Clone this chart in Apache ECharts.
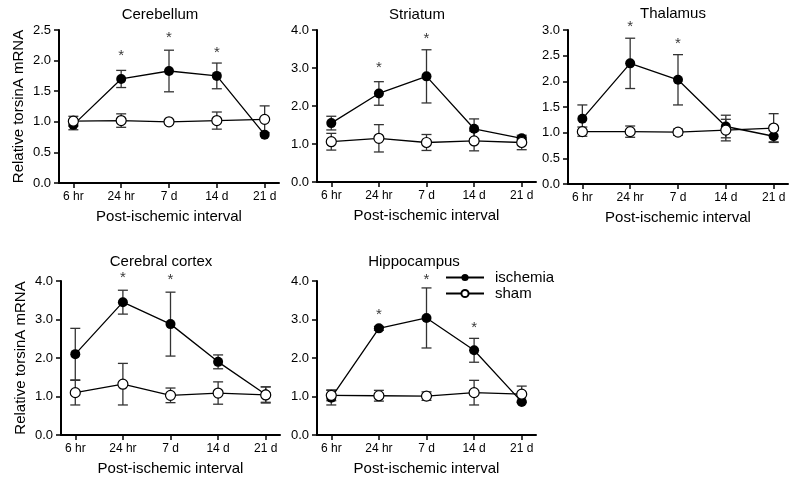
<!DOCTYPE html>
<html>
<head>
<meta charset="utf-8">
<script src="https://cdn.jsdelivr.net/npm/echarts@6/dist/echarts.min.js"></script>
<style>
  html, body { margin: 0; padding: 0; background: #fff; }
  #main { width: 800px; height: 487px; }
</style>
</head>
<body>
<div id="main"></div>
<script>
// time points after ischemia
var categories = ['6 hr', '24 hr', '7 d', '14 d', '21 d'];

// Cerebellum
var cerebellumIschemia = [0.95, 1.70, 1.83, 1.75, 0.79];
var cerebellumIschemiaSem = [0.08, 0.14, 0.34, 0.21, 0.0];
var cerebellumSham = [1.01, 1.02, 1.00, 1.02, 1.04];
var cerebellumShamSem = [0.08, 0.11, 0.03, 0.14, 0.22];
var cerebellumStars = [null, 2.12, 2.42, 2.17, null];

// Striatum
var striatumIschemia = [1.55, 2.33, 2.78, 1.40, 1.15];
var striatumIschemiaSem = [0.18, 0.31, 0.70, 0.26, 0.03];
var striatumSham = [1.06, 1.15, 1.04, 1.08, 1.04];
var striatumShamSem = [0.22, 0.36, 0.21, 0.26, 0.19];
var striatumStars = [null, 3.08, 3.84, null, null];

// Thalamus
var thalamusIschemia = [1.27, 2.35, 2.03, 1.12, 0.93];
var thalamusIschemiaSem = [0.27, 0.49, 0.49, 0.22, 0.11];
var thalamusSham = [1.02, 1.02, 1.01, 1.05, 1.09];
var thalamusShamSem = [0.09, 0.11, 0.06, 0.21, 0.28];
var thalamusStars = [null, 3.12, 2.79, null, null];

// Cerebral cortex
var cortexIschemia = [2.10, 3.45, 2.88, 1.90, 1.05];
var cortexIschemiaSem = [0.67, 0.31, 0.83, 0.18, 0.20];
var cortexSham = [1.10, 1.32, 1.03, 1.09, 1.04];
var cortexShamSem = [0.32, 0.54, 0.19, 0.29, 0.21];
var cortexStars = [null, 4.17, 4.11, null, null];

// Hippocampus
var hippocampusIschemia = [0.97, 2.77, 3.04, 2.20, 0.86];
var hippocampusIschemiaSem = [0.19, 0.05, 0.78, 0.31, 0.02];
var hippocampusSham = [1.03, 1.02, 1.01, 1.10, 1.06];
var hippocampusShamSem = [0.14, 0.14, 0.11, 0.32, 0.21];
var hippocampusStars = [null, 3.20, 4.11, 2.87, null];

var FONT = '"Liberation Sans", Arial, sans-serif';

// box = [left, top, width, height], tpos = title centre
var panels = [
  { title: 'Cerebellum', box: [59, 30, 220, 153], tpos: [160, 15], yMax: 2.5, yStep: 0.5, yName: true,
    isc: cerebellumIschemia, iscSem: cerebellumIschemiaSem, sham: cerebellumSham, shamSem: cerebellumShamSem, stars: cerebellumStars },
  { title: 'Striatum', box: [317, 30, 219, 152], tpos: [417, 15], yMax: 4, yStep: 1, yName: false,
    isc: striatumIschemia, iscSem: striatumIschemiaSem, sham: striatumSham, shamSem: striatumShamSem, stars: striatumStars },
  { title: 'Thalamus', box: [568, 30, 220, 154], tpos: [673, 14], yMax: 3, yStep: 0.5, yName: false,
    isc: thalamusIschemia, iscSem: thalamusIschemiaSem, sham: thalamusSham, shamSem: thalamusShamSem, stars: thalamusStars },
  { title: 'Cerebral cortex', box: [61, 281, 219, 154], tpos: [161, 262], yMax: 4, yStep: 1, yName: true,
    isc: cortexIschemia, iscSem: cortexIschemiaSem, sham: cortexSham, shamSem: cortexShamSem, stars: cortexStars },
  { title: 'Hippocampus', box: [317, 281, 219, 154], tpos: [414, 262], yMax: 4, yStep: 1, yName: false,
    isc: hippocampusIschemia, iscSem: hippocampusIschemiaSem, sham: hippocampusSham, shamSem: hippocampusShamSem, stars: hippocampusStars }
];

// error bars: stem + caps
function renderErr(params, api) {
  var x = api.value(0);
  var lo = api.coord([x, api.value(1)]);
  var hi = api.coord([x, api.value(2)]);
  var w = 5;
  var st = { stroke: '#333', lineWidth: 1.3 };
  return {
    type: 'group',
    children: [
      { type: 'line', shape: { x1: lo[0], y1: lo[1], x2: hi[0], y2: hi[1] }, style: st },
      { type: 'line', shape: { x1: lo[0] - w, y1: lo[1], x2: lo[0] + w, y2: lo[1] }, style: st },
      { type: 'line', shape: { x1: hi[0] - w, y1: hi[1], x2: hi[0] + w, y2: hi[1] }, style: st }
    ]
  };
}

function errData(mean, sem) {
  var out = [];
  mean.forEach(function (m, i) {
    if (sem[i] > 0) out.push([i, m - sem[i], m + sem[i]]);
  });
  return out;
}

function pairs(arr) {
  var out = [];
  arr.forEach(function (v, i) { if (v != null) out.push([i, v]); });
  return out;
}

var option = {
  animation: false,
  backgroundColor: '#fff',
  textStyle: { fontFamily: FONT },
  title: [],
  grid: [],
  xAxis: [],
  yAxis: [],
  series: [],
  legend: {
    data: ['ischemia', 'sham'],
    orient: 'vertical',
    left: 445,
    top: 270,
    padding: 0,
    itemWidth: 38,
    itemHeight: 9,
    itemGap: 1,
    textStyle: { fontSize: 15, color: '#000', fontFamily: FONT, padding: [0, 0, 0, 6] }
  }
};

panels.forEach(function (p, k) {
  var b = p.box;
  option.title.push({
    text: p.title,
    left: p.tpos[0],
    top: p.tpos[1] - 8,
    padding: 0,
    textAlign: 'center',
    textStyle: { fontSize: 15, fontWeight: 'normal', color: '#000', fontFamily: FONT }
  });
  option.grid.push({ left: b[0], top: b[1], width: b[2], height: b[3] });
  option.xAxis.push({
    type: 'value',
    gridIndex: k,
    min: -0.3,
    max: 4.3,
    splitLine: { show: false },
    axisLine: { lineStyle: { color: '#000', width: 2 } },
    axisTick: { customValues: [0, 1, 2, 3, 4], length: 5, lineStyle: { color: '#000', width: 1.5 } },
    axisLabel: {
      customValues: [0, 1, 2, 3, 4],
      formatter: function (v) { return categories[Math.round(v)]; },
      fontSize: 12, color: '#000', margin: 8, fontFamily: FONT
    },
    name: 'Post-ischemic interval',
    nameLocation: 'middle',
    nameGap: 26,
    nameTextStyle: { fontSize: 15, color: '#000', fontFamily: FONT }
  });
  option.yAxis.push({
    type: 'value',
    gridIndex: k,
    min: 0,
    max: p.yMax,
    interval: p.yStep,
    splitLine: { show: false },
    axisLine: { show: true, onZero: false, lineStyle: { color: '#000', width: 2 } },
    axisTick: { show: true, length: 5, lineStyle: { color: '#000', width: 1.5 } },
    axisLabel: {
      formatter: function (v) { return v.toFixed(1); },
      fontSize: 13, color: '#000', margin: 8, fontFamily: FONT
    },
    name: p.yName ? 'Relative torsinA mRNA' : '',
    nameLocation: 'middle',
    nameGap: 33,
    nameTextStyle: { fontSize: 15, color: '#000', fontFamily: FONT }
  });

  option.series.push({
    type: 'custom',
    xAxisIndex: k, yAxisIndex: k,
    renderItem: renderErr,
    encode: { x: 0, y: [1, 2] },
    data: errData(p.isc, p.iscSem),
    z: 1
  });
  option.series.push({
    type: 'custom',
    xAxisIndex: k, yAxisIndex: k,
    renderItem: renderErr,
    encode: { x: 0, y: [1, 2] },
    data: errData(p.sham, p.shamSem),
    z: 1
  });
  option.series.push({
    name: 'ischemia',
    type: 'line',
    xAxisIndex: k, yAxisIndex: k,
    data: pairs(p.isc),
    symbol: 'circle',
    symbolSize: 10,
    lineStyle: { color: '#000', width: 1.3 },
    itemStyle: { color: '#000' },
    z: 3
  });
  option.series.push({
    name: 'sham',
    type: 'line',
    xAxisIndex: k, yAxisIndex: k,
    data: pairs(p.sham),
    symbol: 'circle',
    symbolSize: 10,
    lineStyle: { color: '#000', width: 1.3 },
    itemStyle: { color: '#fff', borderColor: '#000', borderWidth: 1.2 },
    z: 4
  });
  option.series.push({
    type: 'scatter',
    xAxisIndex: k, yAxisIndex: k,
    data: pairs(p.stars),
    symbolSize: 1,
    clip: false,
    itemStyle: { color: 'rgba(0,0,0,0)' },
    label: {
      show: true, position: 'inside', formatter: '*',
      fontSize: 15, color: '#000', fontFamily: FONT, offset: [0, 3]
    },
    z: 5
  });
});

var chart = echarts.init(document.getElementById('main'));
chart.setOption(option);
</script>
</body>
</html>
